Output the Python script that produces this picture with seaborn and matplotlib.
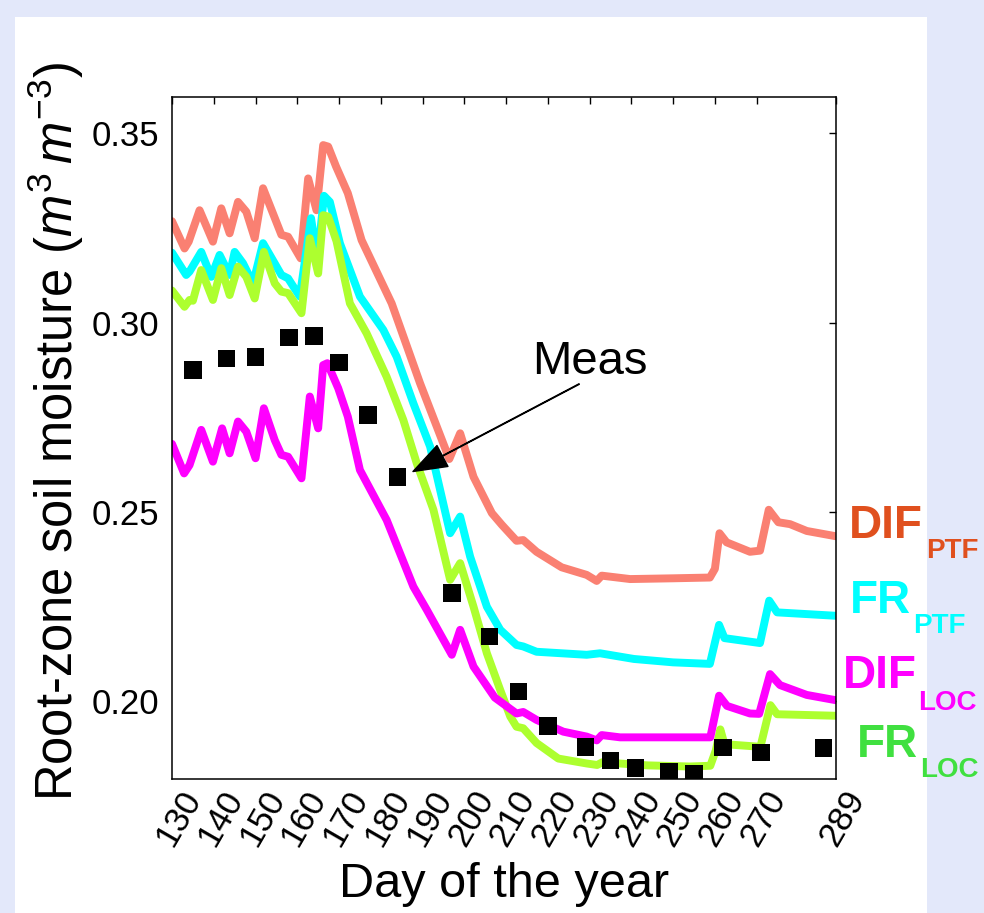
import numpy as np
import pandas as pd
import matplotlib
matplotlib.use("Agg")
import matplotlib.pyplot as plt
import matplotlib.transforms as mtransforms
from matplotlib.patches import Rectangle
import seaborn as sns

sns.set_style("white")
plt.rcParams["font.family"] = ["Liberation Sans", "DejaVu Sans"]
plt.rcParams["mathtext.fontset"] = "custom"
plt.rcParams["mathtext.rm"] = "Liberation Sans"
plt.rcParams["mathtext.it"] = "Liberation Sans:italic"
plt.rcParams["mathtext.bf"] = "Liberation Sans:bold"
for k in ["text.color", "axes.labelcolor", "xtick.color", "ytick.color", "axes.edgecolor"]:
    plt.rcParams[k] = "black"

# ---------------- data ----------------
dif_ptf_day = [130, 133, 134, 136.6, 139.8, 141.8, 143.8, 145.8, 147.8, 149.8, 151.8, 156.2, 157.8,
               160.8, 162.6, 164.6, 166.2, 167.4, 169.3, 172.1, 175.4, 182.6, 189.4, 196.4, 199,
               202.2, 206.6, 209, 212.5, 214.1, 217.3, 223.3, 229.3, 231.7, 232.9, 239.7, 250,
               258.8, 260, 261.1, 262.8, 268.4, 270.8, 272.9, 275.2, 278, 282, 289]
dif_ptf_val = [0.3268, 0.3196, 0.3214, 0.3297, 0.3214, 0.3302, 0.3236, 0.3319, 0.3293, 0.3223, 0.3355,
               0.3232, 0.3227, 0.3170, 0.3381, 0.3297, 0.3469, 0.3465, 0.3412, 0.3342, 0.3218, 0.3051,
               0.2840, 0.2640, 0.2708, 0.2593, 0.2497, 0.2466, 0.2424, 0.2426, 0.2395, 0.2354, 0.2334,
               0.2318, 0.2332, 0.2323, 0.2325, 0.2327, 0.2350, 0.2444, 0.2420, 0.2395, 0.2398, 0.2506,
               0.2473, 0.2468, 0.2450, 0.2436]

fr_ptf_day = [130, 133.4, 134.2, 137, 139.4, 141.4, 143.8, 145, 147, 149.4, 151.8, 156.2, 157.8,
              160.6, 163.3, 164.8, 166.4, 167.8, 170.2, 175, 180.6, 183.8, 187.8, 191.8, 196.6, 199,
              201.4, 205.4, 208.6, 212.5, 214.1, 217.3, 229.3, 232.5, 240.6, 250, 258.8, 261, 262.3,
              270.8, 273, 274.9, 289]
fr_ptf_val = [0.3185, 0.3126, 0.3135, 0.3187, 0.3121, 0.3179, 0.3126, 0.3187, 0.3157, 0.3104, 0.3210,
              0.3126, 0.3117, 0.3069, 0.3276, 0.3165, 0.3335, 0.3319, 0.3210, 0.3069, 0.2981, 0.2910,
              0.2787, 0.2673, 0.2444, 0.2488, 0.2382, 0.2250, 0.2189, 0.2149, 0.2145, 0.2131, 0.2123,
              0.2127, 0.2112, 0.2103, 0.2099, 0.2202, 0.2167, 0.2154, 0.2266, 0.2235, 0.2226]

fr_loc_day = [130, 133, 134.2, 135, 137, 139.8, 141.8, 143.8, 145.8, 147.8, 149.8, 152, 154.6, 156.2,
              157.8, 161, 163, 165, 166.2, 167.4, 169.4, 172.6, 176.6, 181.4, 185.4, 188.6, 192.6,
              196.6, 199, 202.2, 205.4, 208.6, 211, 212.5, 214.1, 217.3, 222.5, 229.3, 231.8, 233,
              243.9, 254, 258.9, 260.2, 261.3, 262.3, 270.9, 273.3, 274.9, 289]
fr_loc_val = [0.3085, 0.3042, 0.3060, 0.3058, 0.3139, 0.3060, 0.3144, 0.3073, 0.3148, 0.3121, 0.3064,
              0.3187, 0.3104, 0.3082, 0.3078, 0.3025, 0.3223, 0.3130, 0.3284, 0.3280, 0.3215, 0.3051,
              0.2972, 0.2857, 0.2743, 0.2629, 0.2506, 0.2321, 0.2365, 0.2250, 0.2127, 0.2030, 0.1960,
              0.1933, 0.1929, 0.1890, 0.1849, 0.1836, 0.1832, 0.1839, 0.1831, 0.1828, 0.1830, 0.1870,
              0.1926, 0.1887, 0.1880, 0.1990, 0.1966, 0.1962]

dif_loc_day = [130, 132.9, 134.2, 137, 139.8, 142, 143.8, 145.8, 147.8, 150, 152, 154.6, 156.2, 157.8,
               161, 163, 165, 166.2, 167.2, 169.8, 172.1, 175, 181.4, 187.8, 191, 197, 199, 202.2,
               207.3, 212.5, 214.1, 217.3, 223.7, 229.3, 231.7, 232.9, 237.3, 250, 258.9, 261, 262.9,
               268.4, 270.6, 273.2, 275.6, 282, 289]
dif_loc_val = [0.2680, 0.2602, 0.2624, 0.2717, 0.2633, 0.2721, 0.2655, 0.2739, 0.2712, 0.2642, 0.2774,
               0.2690, 0.2651, 0.2646, 0.2589, 0.2805, 0.2721, 0.2888, 0.2893, 0.2827, 0.2752, 0.2611,
               0.2479, 0.2303, 0.2242, 0.2123, 0.2189, 0.2092, 0.2010, 0.1968, 0.1972, 0.1951, 0.1920,
               0.1907, 0.1897, 0.1911, 0.1905, 0.1905, 0.1905, 0.2015, 0.1988, 0.1968, 0.1967, 0.2072,
               0.2043, 0.2017, 0.2003]

meas_day = [135, 143, 150, 158, 164, 170, 177, 184, 197, 206, 213, 220, 229, 235, 241, 249, 255, 262,
            271, 286]
meas_val = [0.2875, 0.2906, 0.2909, 0.2961, 0.2965, 0.2895, 0.2756, 0.2593, 0.2286, 0.2171, 0.2026,
            0.1935, 0.1879, 0.1844, 0.1824, 0.1814, 0.1808, 0.1878, 0.1865, 0.1877]

series_names = ["DIF_PTF", "FR_PTF", "FR_LOC", "DIF_LOC"]
line_colors = ["#fa8072", "#00ffff", "#adff2f", "#ff00ff"]
xtick_vals = [130, 140, 150, 160, 170, 180, 190, 200, 210, 220, 230, 240, 250, 260, 270, 289]
ytick_vals = [0.20, 0.25, 0.30, 0.35]

df = pd.concat([
    pd.DataFrame({"day": d, "sm": v, "series": n})
    for d, v, n in [(dif_ptf_day, dif_ptf_val, "DIF_PTF"), (fr_ptf_day, fr_ptf_val, "FR_PTF"),
                    (fr_loc_day, fr_loc_val, "FR_LOC"), (dif_loc_day, dif_loc_val, "DIF_LOC")]
], ignore_index=True)
meas = pd.DataFrame({"day": meas_day, "sm": meas_val})

# ---------------- figure ----------------
W, H = 984, 913
fig = plt.figure(figsize=(W / 100, H / 100), dpi=100, facecolor="#e3e8fa")
fig.add_artist(Rectangle((15 / W, 0), (927 - 15) / W, (H - 17) / H, transform=fig.transFigure,
                         facecolor="white", edgecolor="none", zorder=-5))
ax = fig.add_axes([172 / W, (H - 779) / H, (836 - 172) / W, (779 - 97) / H])
ax.set_facecolor("white")

sns.lineplot(data=df, x="day", y="sm", hue="series", hue_order=series_names,
             palette=dict(zip(series_names, line_colors)), estimator=None, linewidth=5.7,
             legend=False, ax=ax)
sns.scatterplot(data=meas, x="day", y="sm", marker="s", s=160, color="black",
                edgecolor="none", linewidth=0, zorder=5, ax=ax)

ax.set_xlim(130, 289)
ax.set_ylim(0.1795, 0.3596)
ax.set_xticks(xtick_vals)
ax.set_xticklabels([str(t) for t in xtick_vals], rotation=60, ha="right", va="top",
                   rotation_mode="anchor")
ax.set_yticks(ytick_vals)
ax.set_yticklabels([f"{t:.2f}" for t in ytick_vals])
ax.tick_params(direction="in", length=5, width=1, top=True, right=True, labelsize=25,
               colors="black")
ax.tick_params(axis="x", pad=4)
ax.tick_params(axis="y", pad=9)
offset = mtransforms.ScaledTranslation(7 / 100, 0, fig.dpi_scale_trans)
for lbl in ax.get_xticklabels():
    lbl.set_transform(lbl.get_transform() + offset)
for s in ax.spines.values():
    s.set_color("black")
    s.set_linewidth(1.1)
ax.grid(False)

ax.set_xlabel("Day of the year", fontsize=35)
ax.xaxis.set_label_coords(0.5, -0.122)
ax.set_ylabel(r"Root-zone soil moisture ($m^3\,m^{-3}$)", fontsize=36.5)
ax.yaxis.set_label_coords(-0.130, 0.51)

# annotation
ax.annotate("", xy=(187.7, 0.2607), xytext=(227.5, 0.2838),
            arrowprops=dict(facecolor="black", edgecolor="black", width=0.4, headwidth=17,
                            headlength=24, shrink=0))
ax.text(230.1, 0.2865, "Meas", fontsize=34, ha="center", va="baseline")

# right-side labels
def lab(x, y, main, sub, color, xs, ys):
    fig.text(x / W, 1 - y / H, main, fontsize=33, fontweight="bold", color=color,
             ha="left", va="baseline")
    fig.text(xs / W, 1 - ys / H, sub, fontsize=20, fontweight="bold", color=color,
             ha="left", va="baseline")

lab(849, 538, "DIF", "PTF", "#e0501e", 926, 558)
lab(850, 613, "FR", "PTF", "#00ffff", 913, 633)
lab(843, 688, "DIF", "LOC", "#ff00ff", 918, 710)
lab(857, 757, "FR", "LOC", "#40e040", 920, 777)

fig.savefig("out.png", dpi=100, facecolor=fig.get_facecolor())
